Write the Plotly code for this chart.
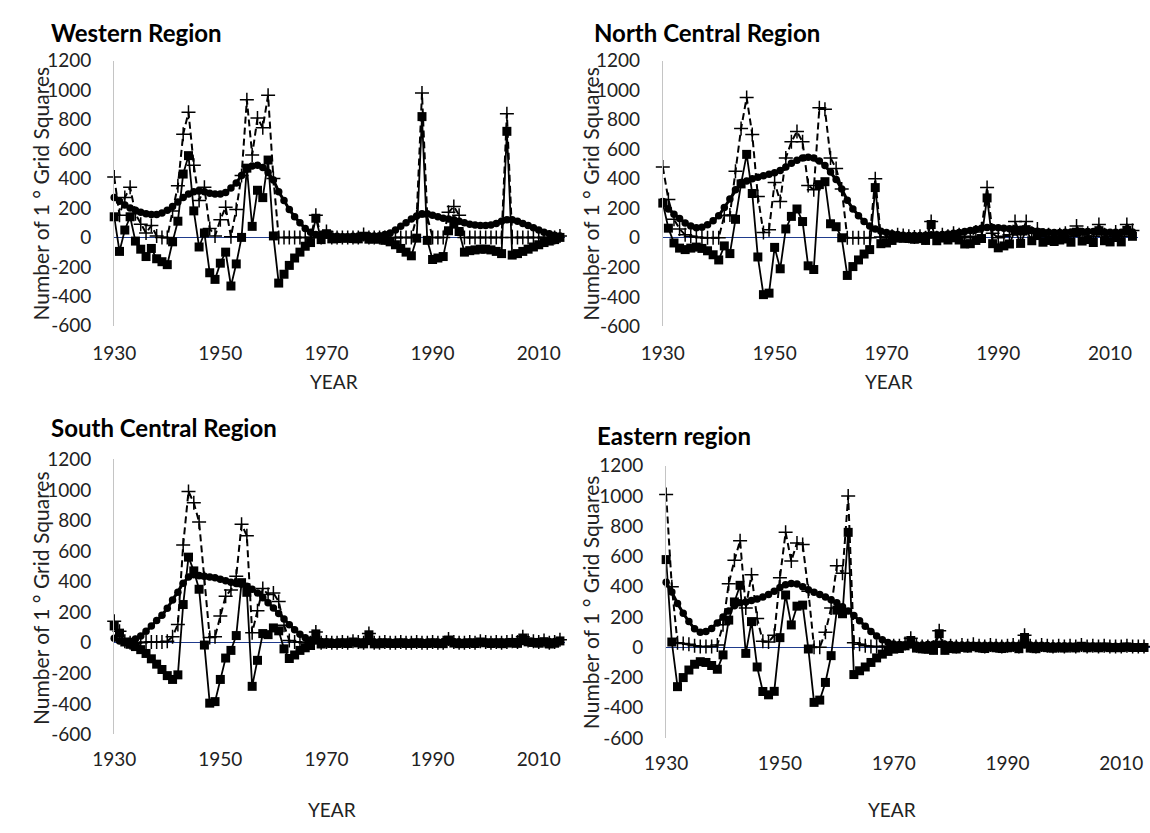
import plotly.graph_objects as go

W_PX, H_PX = 1150, 833

years = list(range(1930, 2015))

# ---------------- Western Region ----------------
west_raw = [410, 150, 270, 340, 160, 90, 30, 80, 10, 0,
            0, 180, 350, 700, 850, 490, 250, 340, 60, 10,
            120, 205, 5, 190, 420, 935, 560, 810, 745, 965,
            400, 0, 0, 0, 0, 0, 0, 0, 150, 0,
            40, 0, 0, 0, 0, 0, 0, 20, 0, 0,
            0, 0, 0, 0, 0, 0, 0, 140, 980, 140,
            0, 0, 0, 170, 210, 150, 0, 0, 0, 0,
            0, 0, 0, 0, 840, 0, 0, 0, 0, 0,
            0, 0, 0, 0, 10]
west_smooth = [270, 245, 220, 200, 185, 170, 160, 155, 155, 165,
               185, 210, 240, 270, 295, 310, 315, 310, 300, 295,
               295, 305, 335, 370, 420, 465, 485, 490, 475, 440,
               390, 310, 250, 190, 140, 100, 60, 35, 20, 15,
               15, 10, 8, 5, 5, 8, 10, 12, 12, 10,
               12, 20, 30, 50, 75, 100, 125, 145, 160, 160,
               150, 140, 130, 125, 120, 110, 100, 90, 85, 80,
               80, 85, 95, 110, 120, 120, 110, 95, 80, 65,
               50, 35, 25, 15, 10]
west_anom = [140, -95, 50, 140, -25, -80, -130, -75, -145, -165,
             -185, -30, 110, 430, 555, 180, -65, 30, -240, -285,
             -175, -100, -330, -180, 0, 470, 75, 320, 270, 525,
             10, -310, -250, -190, -140, -100, -60, -35, 130, -15,
             25, -10, -8, -5, -5, -8, -10, 8, -12, -10,
             -12, -20, -30, -50, -75, -100, -125, -5, 820, -20,
             -150, -140, -130, 45, 90, 40, -100, -90, -85, -80,
             -80, -85, -95, -110, 720, -120, -110, -95, -80, -65,
             -50, -35, -25, -15, 0]

# ---------------- North Central Region ----------------
nc_raw = [480, 260, 125, 60, 20, 10, 5, 0, 0, 0,
          0, 150, 155, 450, 740, 950, 700, 280, 35, 55,
          375, 245, 540, 650, 720, 650, 355, 325, 880, 870,
          540, 470, 330, 0, 0, 0, 0, 0, 400, 5,
          0, 10, 20, 15, 10, 5, 10, 0, 110, 0,
          20, 10, 30, 20, 0, 10, 40, 60, 340, 30,
          0, 10, 20, 110, 20, 110, 30, 60, 10, 20,
          10, 20, 30, 10, 80, 20, 30, 10, 90, 20,
          10, 40, 10, 90, 50]
nc_smooth = [245, 195, 160, 130, 100, 80, 68, 72, 88, 115,
             150, 205, 262, 325, 375, 385, 400, 410, 420, 430,
             440, 455, 480, 505, 525, 540, 545, 540, 520, 490,
             445, 395, 330, 255, 195, 150, 110, 80, 60, 45,
             35, 28, 22, 18, 15, 15, 15, 18, 20, 20,
             22, 25, 30, 35, 42, 50, 58, 65, 70, 70,
             68, 65, 62, 60, 58, 55, 50, 45, 40, 38,
             35, 35, 38, 40, 42, 42, 42, 42, 42, 40,
             38, 38, 38, 40, 40]
nc_anom = [235, 65, -35, -70, -80, -70, -63, -72, -88, -115,
           -150, -55, -107, 125, 365, 565, 300, -130, -385, -375,
           -65, -210, 60, 145, 195, 110, -190, -215, 360, 380,
           95, 75, 0, -255, -195, -150, -110, -80, 340, -40,
           -35, -18, -2, -3, -5, -10, -5, -18, 90, -20,
           -2, -15, 0, -15, -42, -40, -18, -5, 270, -40,
           -68, -55, -42, 50, -38, 55, -20, 15, -30, -18,
           -25, -15, -8, -30, 38, -22, -12, -32, 48, -20,
           -28, 2, -28, 50, 10]

# ---------------- South Central Region ----------------
sc_raw = [140, 75, 10, 0, 0, 0, 5, 5, 5, 5,
          10, 40, 120, 640, 990, 915, 790, 420, 35, 40,
          175, 305, 345, 435, 775, 700, 65, 210, 355, 315,
          325, 270, 115, 15, 5, 5, 0, 0, 70, 0,
          5, 0, 0, 5, 0, 10, 5, 0, 60, 0,
          0, 5, 0, 0, 5, 0, 0, 5, 0, 0,
          5, 0, 0, 25, 5, 0, 0, 5, 0, 10,
          5, 0, 5, 0, 5, 10, 5, 40, 15, 10,
          5, 15, 0, 5, 20]
sc_smooth = [30, 12, 5, 10, 25, 45, 75, 110, 145, 180,
             225, 280, 330, 390, 430, 445, 440, 435, 430, 425,
             415, 405, 395, 388, 382, 370, 350, 325, 295, 262,
             228, 192, 155, 118, 85, 55, 33, 18, 12, 8,
             6, 5, 5, 5, 5, 5, 6, 7, 8, 7,
             6, 5, 5, 5, 5, 5, 5, 5, 5, 5,
             5, 5, 6, 7, 7, 6, 5, 5, 5, 5,
             5, 5, 5, 6, 7, 8, 9, 9, 9, 8,
             8, 8, 8, 8, 8]
sc_anom = [110, 63, 5, -10, -25, -45, -70, -105, -140, -175,
           -215, -240, -210, 250, 560, 470, 350, -15, -395, -385,
           -240, -100, -50, 47, 393, 330, -285, -115, 60, 53,
           97, 78, -40, -103, -80, -50, -33, -18, 58, -8,
           -1, -5, -5, 0, -5, 5, -1, -7, 52, -7,
           -6, 0, -5, -5, 0, -5, -5, 0, -5, -5,
           0, -5, -6, 18, -2, -6, -5, 0, -5, 5,
           0, -5, 0, -6, -2, 2, -4, 31, 6, 2,
           -3, 7, -8, -3, 12]

# ---------------- Eastern region ----------------
east_raw = [1010, 400, 30, 25, 20, 10, 5, 5, 5, 15,
            150, 420, 575, 705, 260, 480, 190, 40, 35, 80,
            460, 760, 570, 690, 680, 370, 0, 0, 100, 260,
            540, 490, 1000, 30, 20, 10, 5, 5, 5, 5,
            10, 10, 25, 60, 10, 5, 5, 0, 110, 0,
            10, 5, 15, 10, 20, 10, 5, 15, 10, 5,
            10, 15, 5, 80, 10, 5, 15, 10, 5, 10,
            5, 10, 5, 15, 5, 10, 5, 10, 5, 5,
            5, 10, 5, 5, 5]
east_smooth = [430, 365, 290, 225, 170, 122, 100, 105, 125, 160,
               200, 240, 275, 295, 300, 310, 320, 332, 349, 371,
               396, 414, 422, 418, 401, 381, 364, 349, 332, 315,
               294, 268, 240, 210, 175, 140, 105, 75, 50, 32,
               22, 18, 15, 15, 15, 15, 18, 20, 20, 20,
               18, 16, 15, 15, 14, 13, 13, 13, 13, 13,
               13, 13, 14, 15, 15, 14, 13, 12, 11, 10,
               10, 9, 9, 8, 8, 8, 8, 7, 7, 7,
               7, 7, 6, 6, 6]
east_anom = [580, 35, -260, -200, -150, -112, -95, -100, -120, -145,
             -50, 180, 300, 410, -40, 170, -130, -292, -314, -291,
             64, 346, 148, 272, 279, -11, -364, -349, -232, -55,
             246, 222, 760, -180, -155, -130, -100, -70, -45, -27,
             -12, -8, 10, 45, -5, -10, -13, -20, 90, -20,
             -8, -11, 0, -5, 6, -3, -8, 2, -3, -8,
             -3, 2, -9, 65, -5, -9, 2, -2, -6, 0,
             -5, 1, -4, 7, -3, 2, -3, 3, -2, -2,
             -2, 3, -1, -1, -1]

y_ticks = [-600, -400, -200, 0, 200, 400, 600, 800, 1000, 1200]
x_ticks = [1930, 1950, 1970, 1990, 2010]

titles = ["Western Region", "North Central Region", "South Central Region", "Eastern region"]
y_title = "Number of 1 ° Grid Squares"
x_title = "YEAR"

FONT = "Lato, 'Open Sans', sans-serif"


def fx(px):
    return px / W_PX


def fy(py):
    return 1 - py / H_PX


# layout geometry per panel (pixels)
geo = [
    dict(x0=94, pxyr=5.41, ytop=50, ybot=322.7, title=(28, 21), ytit=(19, 187), xtit=(318, 380), xstand=14),
    dict(x0=653.3, pxyr=5.70, ytop=50, ybot=323.3, title=(581, 21), ytit=(580, 187), xtit=(884, 380), xstand=14),
    dict(x0=94, pxyr=5.41, ytop=460, ybot=743, title=(28, 427), ytit=(19, 603), xtit=(316, 820), xstand=12),
    dict(x0=656.7, pxyr=5.80, ytop=466.7, ybot=746.7, title=(584, 436), ytit=(579, 607), xtit=(887, 820), xstand=12),
]
data = [
    (west_raw, west_anom, west_smooth),
    (nc_raw, nc_anom, nc_smooth),
    (sc_raw, sc_anom, sc_smooth),
    (east_raw, east_anom, east_smooth),
]

fig = go.Figure()
annotations = []
layout_axes = {}

for i, (g, (raw, anom, smooth)) in enumerate(zip(geo, data), start=1):
    xa = "x" if i == 1 else f"x{i}"
    ya = "y" if i == 1 else f"y{i}"
    fig.add_trace(go.Scatter(
        x=years, y=raw, xaxis=xa, yaxis=ya, mode="lines+markers",
        line=dict(color="black", width=2, dash="7px,4px"),
        marker=dict(symbol="cross-thin", size=10, color="black", line=dict(color="black", width=1.5)),
        cliponaxis=False, showlegend=False))
    fig.add_trace(go.Scatter(
        x=years, y=anom, xaxis=xa, yaxis=ya, mode="lines+markers",
        line=dict(color="black", width=1.8),
        marker=dict(symbol="square", size=9, color="black"),
        cliponaxis=False, showlegend=False))
    fig.add_trace(go.Scatter(
        x=years, y=smooth, xaxis=xa, yaxis=ya, mode="lines+markers",
        line=dict(color="black", width=3),
        marker=dict(symbol="circle", size=7.5, color="black"),
        cliponaxis=False, showlegend=False))

    x1 = g["x0"] + 85 * g["pxyr"]
    layout_axes["xaxis" if i == 1 else f"xaxis{i}"] = dict(
        domain=[fx(g["x0"]), min(1.0, fx(x1))], range=[1930, 2015], anchor=ya,
        tickvals=x_ticks, ticktext=[str(v) for v in x_ticks],
        showgrid=False, zeroline=False, showline=False, ticks="",
        tickfont=dict(family=FONT, size=19, color="#222"), ticklabelstandoff=g["xstand"])
    layout_axes["yaxis" if i == 1 else f"yaxis{i}"] = dict(
        domain=[fy(g["ybot"]), fy(g["ytop"])], range=[-600, 1200], anchor=xa,
        tickvals=y_ticks, ticktext=[str(v) for v in y_ticks],
        showgrid=False, zeroline=True, zerolinecolor="#1f3b8c", zerolinewidth=1,
        showline=True, linecolor="#c4c4c4", linewidth=1, ticks="",
        tickfont=dict(family=FONT, size=19, color="#222"), ticklabelstandoff=18)

    annotations.append(dict(text=f"<b>{titles[i-1]}</b>", x=fx(g["title"][0]), y=fy(g["title"][1]),
                            xref="paper", yref="paper", xanchor="left", yanchor="middle",
                            showarrow=False, font=dict(family=FONT, size=24, color="black")))
    annotations.append(dict(text=y_title, x=fx(g["ytit"][0]), y=fy(g["ytit"][1]),
                            xref="paper", yref="paper", xanchor="center", yanchor="middle",
                            textangle=-90, showarrow=False, font=dict(family=FONT, size=21, color="#222")))
    annotations.append(dict(text=x_title, x=fx(g["xtit"][0]), y=fy(g["xtit"][1]),
                            xref="paper", yref="paper", xanchor="center", yanchor="middle",
                            showarrow=False, font=dict(family=FONT, size=19, color="#222")))

fig.update_layout(
    width=W_PX, height=H_PX, margin=dict(l=0, r=0, t=0, b=0),
    paper_bgcolor="white", plot_bgcolor="white", showlegend=False,
    annotations=annotations, **layout_axes)

fig.write_html("out.html")
